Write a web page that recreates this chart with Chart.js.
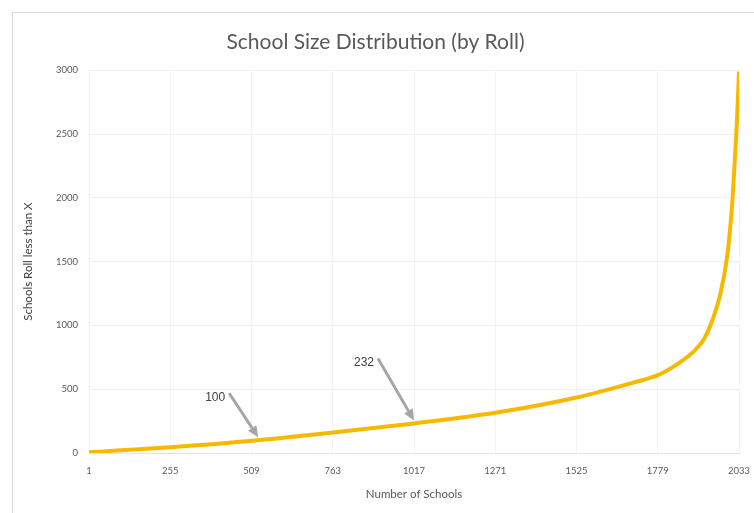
<!DOCTYPE html>
<html>
<head>
<meta charset="utf-8">
<script src="https://cdn.jsdelivr.net/npm/chart.js@4.4.0/dist/chart.umd.min.js"></script>
<style>
  html, body { margin: 0; padding: 0; background: #fff; }
  #wrap { position: absolute; left: 0; top: 0; width: 754px; height: 513px; overflow: hidden; }
  #frame { position: absolute; left: 12px; top: 12px; width: 760px; height: 520px; border: 1px solid #d9d9d9; }
  #chart { position: absolute; left: 0; top: 0; }
</style>
</head>
<body>
<div id="wrap">
  <div id="frame"></div>
  <canvas id="chart" width="754" height="513"></canvas>
</div>
<script>
// schools ranked by roll: rank -> roll size
const schoolRank = [1, 100, 255, 530, 763, 1017, 1271, 1525, 1700, 1779, 1845, 1889, 1925, 1951, 1975, 1995, 2005, 2013, 2020, 2026, 2033];
const schoolRoll = [5, 22, 45, 100, 160, 232, 315, 435, 550, 610, 705, 790, 900, 1050, 1250, 1520, 1750, 2000, 2300, 2570, 2990];

const xTickValues = [1, 255, 509, 763, 1017, 1271, 1525, 1779, 2033];

// callouts pointing at points on the curve
const calloutRank = [530, 1017];
const calloutRoll = [100, 232];
const calloutTail = [[-29, -44], [-36, -62]];

const textGrey = "#595959";
const calibriLike = "Lato, 'Open Sans', sans-serif";

const calloutPlugin = {
    id: "callouts",
    afterDatasetsDraw(chart) {
        const { ctx, scales: { x, y } } = chart;
        ctx.save();
        calloutRank.forEach((rank, i) => {
            const tipX = x.getPixelForValue(rank);
            const tipY = y.getPixelForValue(calloutRoll[i]) - 3;
            const tailX = tipX + calloutTail[i][0];
            const tailY = tipY + calloutTail[i][1];
            const ang = Math.atan2(tipY - tailY, tipX - tailX);
            const headLen = 11, headW = 5;
            const baseX = tipX - headLen * Math.cos(ang);
            const baseY = tipY - headLen * Math.sin(ang);

            ctx.strokeStyle = "#a6a6a6";
            ctx.fillStyle = "#a6a6a6";
            ctx.lineWidth = 3;
            ctx.beginPath();
            ctx.moveTo(tailX, tailY);
            ctx.lineTo(baseX, baseY);
            ctx.stroke();

            ctx.beginPath();
            ctx.moveTo(tipX, tipY);
            ctx.lineTo(baseX + headW * Math.sin(ang), baseY - headW * Math.cos(ang));
            ctx.lineTo(baseX - headW * Math.sin(ang), baseY + headW * Math.cos(ang));
            ctx.closePath();
            ctx.fill();

            ctx.fillStyle = "#404040";
            ctx.font = "12px 'Liberation Sans', Arial, sans-serif";
            ctx.textAlign = "right";
            ctx.textBaseline = "middle";
            ctx.fillText(String(calloutRoll[i]), tailX - 4, tailY + 4);
        });
        ctx.restore();
    }
};

const ctx = document.getElementById("chart").getContext("2d");
new Chart(ctx, {
    type: "line",
    data: {
        datasets: [{
            label: "Schools Roll",
            data: schoolRank.map((r, i) => ({ x: r, y: schoolRoll[i] })),
            borderColor: "#f7b900",
            borderWidth: 4,
            pointRadius: 0,
            cubicInterpolationMode: "monotone",
            fill: false
        }]
    },
    options: {
        responsive: false,
        animation: false,
        layout: { padding: { left: 12, right: 15, top: 12, bottom: 8 } },
        plugins: {
            legend: { display: false },
            tooltip: { enabled: false },
            title: {
                display: true,
                text: "School Size Distribution (by Roll)",
                color: textGrey,
                font: { family: calibriLike, size: 21, weight: "normal" },
                padding: { top: 18, bottom: 15 }
            }
        },
        scales: {
            x: {
                type: "linear",
                min: 1,
                max: 2033,
                afterBuildTicks: (s) => { s.ticks = xTickValues.map((v) => ({ value: v })); },
                afterFit: (s) => {
                    s.height = 52;
                    // let the end labels hang past the plot edge
                    s.paddingLeft = 0;
                    s.paddingRight = 0;
                },
                ticks: {
                    color: textGrey,
                    font: { family: calibriLike, size: 9.5 },
                    padding: 12,
                    maxRotation: 0,
                    autoSkip: false,
                    callback: (v) => String(v)
                },
                grid: { color: "#f4f4f4", drawTicks: false },
                border: { color: "#e3e3e3" },
                title: {
                    display: true,
                    text: "Number of Schools",
                    color: textGrey,
                    font: { family: calibriLike, size: 11.5 },
                    padding: { top: 4, bottom: 4 }
                }
            },
            y: {
                min: 0,
                max: 3000,
                afterFit: (s) => { s.width = 77; },
                ticks: {
                    stepSize: 500,
                    color: textGrey,
                    font: { family: calibriLike, size: 9.5 },
                    padding: 11,
                    callback: (v) => String(v)
                },
                grid: { color: "#f1f1f1", drawTicks: false },
                border: { display: false },
                title: {
                    display: true,
                    text: "Schools Roll less than X",
                    color: "#404040",
                    font: { family: calibriLike, size: 11.5 },
                    padding: { top: 9, bottom: 4 }
                }
            }
        }
    },
    plugins: [calloutPlugin]
});
</script>
</body>
</html>
